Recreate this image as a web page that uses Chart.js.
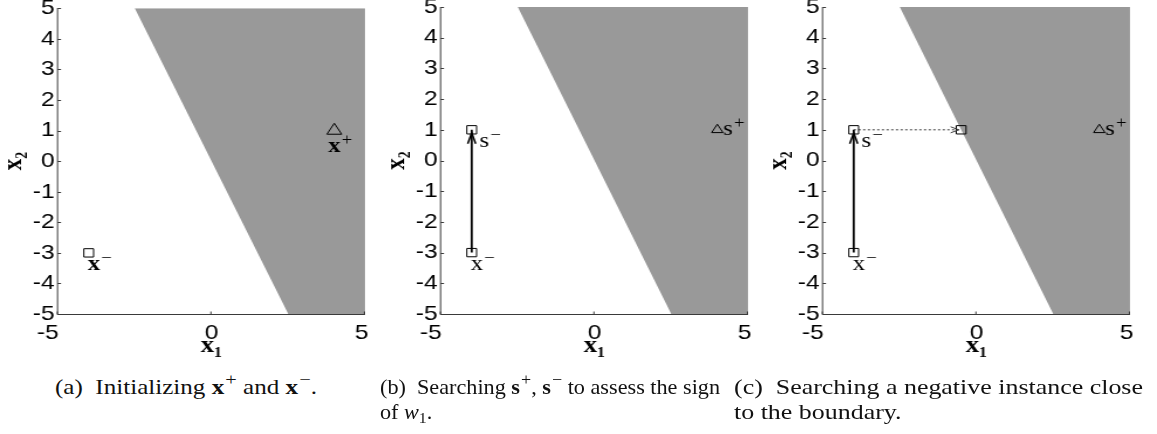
<!DOCTYPE html>
<html>
<head>
<meta charset="utf-8">
<title>Searching instances near a linear boundary</title>
<script src="https://cdn.jsdelivr.net/npm/chart.js@4.4.1/dist/chart.umd.min.js"></script>
<style>
  html, body { margin: 0; padding: 0; background: #fff; }
  #page { position: relative; width: 1157px; height: 434px; overflow: hidden; background: #fff; }
  #page canvas { position: absolute; top: 0; transform-origin: 0 0; }
  .cap { position: absolute; font-family: "Liberation Serif", "DejaVu Serif", serif; font-size: 21px;
         line-height: 21px; color: #111; white-space: nowrap; transform-origin: 0 0; }
  .cap sup { font-size: 17px; position: relative; top: -9px; vertical-align: baseline; line-height: 0; margin-left: 1px; }
  .cap sub { font-size: 15px; position: relative; top: 4px; vertical-align: baseline; line-height: 0; }
</style>
</head>
<body>
<div id="page">
  <canvas id="panelA" width="329" height="370" style="left:0px"></canvas>
  <canvas id="panelB" width="329" height="370" style="left:383px"></canvas>
  <canvas id="panelC" width="329" height="370" style="left:765px"></canvas>

  <div class="cap" id="capA1" data-left="55" data-width="262" style="top:377px">(a)&ensp;Initializing <b>x</b><sup>+</sup> and <b>x</b><sup>−</sup>.</div>
  <div class="cap" id="capB1" data-left="380" data-width="340" style="top:377px">(b)&ensp;Searching <b>s</b><sup>+</sup>, <b>s</b><sup>−</sup> to assess the sign</div>
  <div class="cap" data-left="380" data-follow="capB1" style="top:402px">of <i>w</i><sub>1</sub>.</div>
  <div class="cap" id="capC1" data-left="734" data-width="409" style="top:377px">(c)&ensp;Searching a negative instance close</div>
  <div class="cap" data-left="734" data-follow="capC1" style="top:402px">to the boundary.</div>
</div>

<script>
// ---- axis ticks ----
const xTickValues = [-5, 0, 5];
const yTickValues = [-5, -4, -3, -2, -1, 0, 1, 2, 3, 4, 5];

// ---- positive half-plane 2*x1 + x2 > 0, cut to the [-5,5] box ----
const regionX1 = [-2.5, 5, 5, 2.5];
const regionX2 = [5, 5, -5, -5];

// ---- (a) initial instances ----
const aNegX1 = [-4];
const aNegX2 = [-3];
const aPosX1 = [4];
const aPosX2 = [1];

// ---- (b) probing along x2 ----
const bNegX1 = [-4, -4];
const bNegX2 = [-3, 1];
const bPosX1 = [4];
const bPosX2 = [1];
const bMoveX1 = [-4, -4];
const bMoveX2 = [-3, 1];

// ---- (c) sliding along x1 toward the boundary ----
const cNegX1 = [-4, -4, -0.5];
const cNegX2 = [-3, 1, 1];
const cPosX1 = [4];
const cPosX2 = [1];
const cMoveX1 = [-4, -4];
const cMoveX2 = [-3, 1];
const cSlideX1 = [-4, -0.5];
const cSlideX2 = [1, 1];

const SHADE = '#999999';
const AXIS_COLOR = '#3a3a3a';

// each panel is drawn narrower and widened on screen (wide-set lettering)
const STRETCH = 1.17;
const CANVAS_W = 329;
const Y_AXIS_W = 58 / STRETCH;
const AREA_W = 307 / STRETCH;
const PAD_RIGHT = CANVAS_W - Y_AXIS_W - AREA_W;

const pts = (xs, ys) => xs.map((x, i) => ({ x, y: ys[i] }));

// label offsets in canvas pixels from the marked point to the base glyph's left/baseline
const PLACE = {
  under:    [-0.9, 17.5],
  underTri: [-5.2, 21],
  right:    [6.8, 17.5],
  rightTri: [5, 5]
};

function decorPlugin(labels, bold) {
  return {
    id: 'decor',
    afterDatasetsDraw(chart) {
      const { ctx, chartArea: ca, scales: { x: sx, y: sy } } = chart;
      ctx.save();

      // arrow heads at the end of move segments
      chart.data.datasets.forEach((ds, i) => {
        if (!ds.head) return;
        const el = chart.getDatasetMeta(i).data;
        const p0 = el[el.length - 2], p1 = el[el.length - 1];
        const dx = p1.x - p0.x, dy = p1.y - p0.y, len = Math.hypot(dx, dy);
        const ux = dx / len, uy = dy / len;
        const h = ds.head;
        const tx = p1.x - ux * h.inset, ty = p1.y - uy * h.inset;
        const bx = tx - ux * h.length, by = ty - uy * h.length;
        ctx.setLineDash([]);
        ctx.strokeStyle = ds.borderColor;
        ctx.lineWidth = h.width;
        ctx.lineJoin = 'miter';
        ctx.beginPath();
        ctx.moveTo(bx - uy * h.half, by + ux * h.half);
        ctx.lineTo(tx, ty);
        ctx.lineTo(bx + uy * h.half, by - ux * h.half);
        ctx.stroke();
      });

      // axis lines with short inward ticks
      const lx = ca.left - 0.4;
      const by = Math.round(ca.bottom) + 0.5;
      ctx.strokeStyle = AXIS_COLOR;
      ctx.lineWidth = 1;
      ctx.beginPath();
      ctx.moveTo(lx, Math.round(ca.top));
      ctx.lineTo(lx, by);
      ctx.lineTo(ca.right, by);
      yTickValues.forEach(v => {
        const py = Math.round(sy.getPixelForValue(v)) + 0.5;
        ctx.moveTo(lx, py); ctx.lineTo(lx + 3, py);
      });
      xTickValues.forEach(v => {
        const px = sx.getPixelForValue(v) - 0.5;
        ctx.moveTo(px, by); ctx.lineTo(px, by - 3);
      });
      ctx.stroke();

      // point names with superscripts
      ctx.fillStyle = '#000';
      ctx.textAlign = 'left';
      ctx.textBaseline = 'alphabetic';
      labels.forEach(lb => {
        const off = PLACE[lb.place];
        const px = sx.getPixelForValue(lb.x) + off[0];
        const py = sy.getPixelForValue(lb.y) + off[1];
        ctx.font = (bold ? 'bold ' : '') + '21px "Liberation Serif"';
        ctx.fillText(lb.base, px, py);
        const w = ctx.measureText(lb.base).width;
        ctx.font = '16px "Liberation Serif"';
        ctx.fillText(lb.sup, px + w + 1, py - 7);
      });
      ctx.restore();
    }
  };
}

// x tick text: trailing spaces nudge the outer labels inward like the original axis
const xTickText = v => (v === -5 ? '-5   ' : v === 5 ? '5 ' : String(v));

function makePanel(id, spec) {
  const canvas = document.getElementById(id);
  canvas.style.transform = 'scaleX(' + STRETCH + ')';

  const datasets = [
    {
      type: 'line', data: pts(regionX1, regionX2), fill: 'shape',
      backgroundColor: SHADE, borderColor: SHADE, borderWidth: 0, pointRadius: 0, order: 3
    }
  ];
  (spec.moves || []).forEach(m => datasets.push({
    type: 'line', data: pts(m.x1, m.x2), fill: false, order: 2,
    borderColor: m.dotted ? '#3c3c3c' : '#000', borderWidth: m.dotted ? 1 : 1.8,
    borderDash: m.dotted ? [2, 2] : [], pointRadius: 0,
    head: m.dotted ? { inset: 2, length: 7, half: 3, width: 1 } : { inset: 3, length: 11, half: 3.4, width: 1.5 }
  }));
  datasets.push({
    type: 'scatter', data: pts(spec.negX1, spec.negX2), order: 1,
    pointStyle: 'rect', pointRadius: 5.9, borderColor: '#000', borderWidth: 1,
    backgroundColor: 'rgba(0,0,0,0)'
  });
  datasets.push({
    type: 'scatter', data: pts(spec.posX1, spec.posX2), order: 1,
    pointStyle: 'triangle', pointRadius: spec.triRadius, borderColor: '#000', borderWidth: 1,
    backgroundColor: 'rgba(0,0,0,0)'
  });

  const tickFont = { family: '"Liberation Sans", Arial, sans-serif', size: 21 };
  const titleFont = { family: '"Liberation Serif", serif', size: 23, weight: 'bold', lineHeight: 1 };

  new Chart(canvas, {
    type: 'scatter',
    data: { datasets },
    options: {
      responsive: false,
      animation: false,
      events: [],
      layout: { padding: { top: 7, right: PAD_RIGHT, bottom: 0, left: 0 } },
      plugins: { legend: { display: false }, tooltip: { enabled: false } },
      scales: {
        x: {
          type: 'linear', min: -5, max: 5,
          afterBuildTicks: s => { s.ticks = xTickValues.map(v => ({ value: v })); },
          grid: { display: false, drawTicks: false },
          border: { display: false },
          ticks: { font: tickFont, color: '#000', padding: 7, maxRotation: 0, autoSkip: false, callback: xTickText },
          title: { display: true, text: 'x₁', font: titleFont, color: '#000', padding: { top: 0, bottom: 12 } },
          afterFit: s => { s.height = 56; s.paddingLeft = 0; s.paddingRight = 0; }
        },
        y: {
          type: 'linear', min: -5, max: 5,
          afterBuildTicks: s => { s.ticks = yTickValues.map(v => ({ value: v })); },
          grid: { display: false, drawTicks: false },
          border: { display: false },
          ticks: { font: tickFont, color: '#000', padding: 3, autoSkip: false, callback: v => String(v) },
          title: { display: true, text: 'x₂', font: titleFont, color: '#000', padding: { top: 0.5, bottom: 0 } },
          afterFit: s => { s.width = Y_AXIS_W; s.paddingTop = 0; s.paddingBottom = 0; }
        }
      }
    },
    plugins: [decorPlugin(spec.labels, spec.bold)]
  });
}

makePanel('panelA', {
  negX1: aNegX1, negX2: aNegX2, posX1: aPosX1, posX2: aPosX2, triRadius: 7.3, bold: true,
  labels: [
    { x: aNegX1[0], y: aNegX2[0], base: 'x', sup: '−', place: 'under' },
    { x: aPosX1[0], y: aPosX2[0], base: 'x', sup: '+', place: 'underTri' }
  ]
});

makePanel('panelB', {
  negX1: bNegX1, negX2: bNegX2, posX1: bPosX1, posX2: bPosX2, triRadius: 5.6, bold: false,
  moves: [{ x1: bMoveX1, x2: bMoveX2 }],
  labels: [
    { x: bNegX1[0], y: bNegX2[0], base: 'x', sup: '−', place: 'under' },
    { x: bNegX1[1], y: bNegX2[1], base: 's', sup: '−', place: 'right' },
    { x: bPosX1[0], y: bPosX2[0], base: 's', sup: '+', place: 'rightTri' }
  ]
});

makePanel('panelC', {
  negX1: cNegX1, negX2: cNegX2, posX1: cPosX1, posX2: cPosX2, triRadius: 5.6, bold: false,
  moves: [{ x1: cMoveX1, x2: cMoveX2 }, { x1: cSlideX1, x2: cSlideX2, dotted: true }],
  labels: [
    { x: cNegX1[0], y: cNegX2[0], base: 'x', sup: '−', place: 'under' },
    { x: cNegX1[1], y: cNegX2[1], base: 's', sup: '−', place: 'right' },
    { x: cPosX1[0], y: cPosX2[0], base: 's', sup: '+', place: 'rightTri' }
  ]
});

// caption lines: place each and stretch full lines to their column width
const capScale = {};
document.querySelectorAll('.cap').forEach(el => {
  el.style.left = el.dataset.left + 'px';
});
document.querySelectorAll('.cap[data-width]').forEach(el => {
  const natural = el.getBoundingClientRect().width;
  const s = parseFloat(el.dataset.width) / natural;
  capScale[el.id] = s;
  el.style.transform = 'scaleX(' + s.toFixed(4) + ')';
});
document.querySelectorAll('.cap[data-follow]').forEach(el => {
  const s = capScale[el.dataset.follow] || 1;
  el.style.transform = 'scaleX(' + s.toFixed(4) + ')';
});
</script>
</body>
</html>
